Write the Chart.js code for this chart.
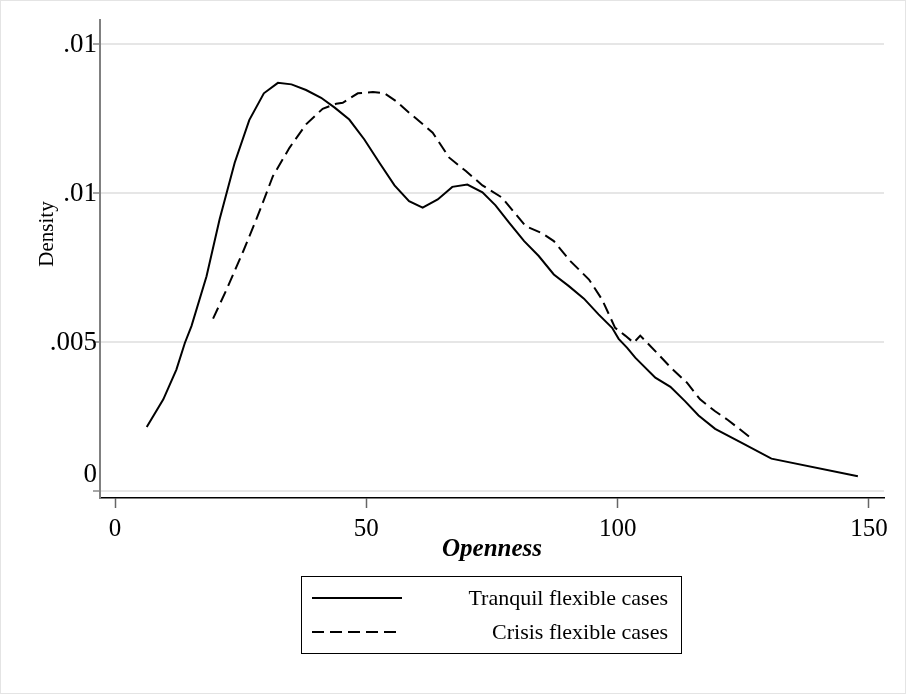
<!DOCTYPE html>
<html>
<head>
<meta charset="utf-8">
<script src="https://cdn.jsdelivr.net/npm/chart.js@4"></script>
<style>
body { margin: 0; background: #fff; }
#wrap { width: 906px; height: 694px; }
</style>
</head>
<body>
<div id="wrap"><canvas id="chart"></canvas></div>
<script>
// Kernel density of openness
const tranquilX = [6.3, 9.6, 12.2, 13.9, 15.2, 18.2, 20.8, 23.8, 26.7, 29.6, 32.4, 35.1, 38.0, 41.0, 43.7, 46.6, 49.6, 52.6, 55.6, 58.5, 61.2, 64.2, 67.1, 70.1, 73.1, 75.7, 78.4, 81.4, 84.3, 87.3, 90.3, 93.3, 96.2, 98.9, 100.2, 101.9, 103.5, 107.5, 110.5, 113.4, 116.1, 119.4, 124.7, 130.6, 147.8];
const tranquilY = [.00216, .00309, .00409, .00499, .00555, .00722, .00913, .01103, .01246, .01336, .01371, .01366, .01347, .01321, .01288, .01248, .01181, .01103, .01027, .00974, .00952, .0098, .01022, .0103, .01004, .0096, .00902, .0084, .0079, .00728, .00689, .00647, .00594, .00549, .00512, .00482, .00449, .00382, .00351, .00303, .00255, .0021, .00163, .0011, .00051];
const crisisX = [19.5, 22.2, 25.5, 28.1, 29.4, 31.4, 34.7, 38.0, 41.3, 44.0, 45.3, 48.3, 51.3, 53.6, 55.9, 58.5, 60.9, 63.2, 66.5, 69.8, 73.1, 77.0, 81.7, 85.0, 87.3, 90.6, 94.3, 96.9, 99.5, 101.5, 103.2, 104.5, 108.1, 110.8, 113.8, 116.4, 119.4, 122.0, 126.7];
const crisisY = [.0058, .00678, .00806, .00913, .00969, .01058, .01153, .01232, .01284, .01301, .01304, .01336, .0134, .01336, .0131, .01271, .01237, .01204, .0112, .01075, .01027, .00986, .0089, .00866, .0084, .00773, .00711, .00644, .00549, .00523, .00499, .00523, .0046, .00412, .00365, .00309, .00269, .00239, .00177];

const seriesLabels = ['Tranquil flexible cases', 'Crisis flexible cases'];
const xTicks = [0, 50, 100, 150];
const yTicks = [0, 0.005, 0.01, 0.015];
const yTickLabels = ['0', '.005', '.01', '.01'];

const serif = "'Liberation Serif', 'DejaVu Serif', serif";

const toPoints = (xs, ys) => xs.map((x, i) => ({x: x, y: ys[i]}));

// white page with a faint frame
const background = {
    id: 'background',
    beforeDraw(chart) {
        const ctx = chart.ctx;
        ctx.save();
        ctx.fillStyle = '#fff';
        ctx.fillRect(0, 0, chart.width, chart.height);
        ctx.strokeStyle = '#e4e4e4';
        ctx.lineWidth = 1;
        ctx.strokeRect(0.5, 0.5, chart.width - 1, chart.height - 1);
        ctx.restore();
    }
};

// boxed legend below the plot + rotated y title
const boxLegend = {
    id: 'boxLegend',
    afterDraw(chart) {
        const ctx = chart.ctx;
        ctx.save();
        ctx.strokeStyle = '#000';
        ctx.lineWidth = 1;
        ctx.strokeRect(301.5, 576.5, 380, 77);
        ctx.font = '22px ' + serif;
        ctx.textAlign = 'right';
        ctx.textBaseline = 'middle';
        chart.data.datasets.forEach((ds, i) => {
            const y = 598 + i * 34;
            ctx.setLineDash(ds.borderDash || []);
            ctx.lineWidth = ds.borderWidth;
            ctx.strokeStyle = ds.borderColor;
            ctx.beginPath();
            ctx.moveTo(312, y);
            ctx.lineTo(402, y);
            ctx.stroke();
            ctx.setLineDash([]);
            ctx.fillStyle = '#000';
            ctx.fillText(ds.label, 668, y + 1);
        });
        ctx.translate(47, 234);
        ctx.rotate(-Math.PI / 2);
        ctx.font = '21px ' + serif;
        ctx.textAlign = 'center';
        ctx.fillText('Density', 0, 0);
        ctx.restore();
    }
};

new Chart(document.getElementById('chart'), {
    type: 'line',
    data: {
        datasets: [{
            label: seriesLabels[0],
            data: toPoints(tranquilX, tranquilY),
            borderColor: '#000',
            borderWidth: 2,
            pointRadius: 0,
            fill: false
        }, {
            label: seriesLabels[1],
            data: toPoints(crisisX, crisisY),
            borderColor: '#000',
            borderWidth: 2,
            borderDash: [12, 6],
            pointRadius: 0,
            fill: false
        }]
    },
    options: {
        responsive: true,
        maintainAspectRatio: false,
        animation: false,
        layout: { padding: { top: 20, right: 22, left: 0, bottom: 0 } },
        plugins: { legend: { display: false }, tooltip: { enabled: false } },
        scales: {
            x: {
                type: 'linear',
                min: -3,
                max: 153,
                afterBuildTicks: s => { s.ticks = xTicks.map(v => ({value: v})); },
                afterFit: s => { s.height = 196; },
                grid: { drawOnChartArea: false, tickLength: 10, tickColor: '#666', tickWidth: 1.5 },
                border: { color: '#000', width: 1.5 },
                ticks: { font: { family: serif, size: 25 }, color: '#000', padding: 6, maxRotation: 0 },
                title: {
                    display: true,
                    text: 'Openness',
                    color: '#000',
                    font: { family: serif, size: 25, style: 'italic', weight: 'bold' },
                    padding: { top: 0, bottom: 129 }
                }
            },
            y: {
                min: -0.00022,
                max: 0.01582,
                afterBuildTicks: s => { s.ticks = yTicks.map(v => ({value: v})); },
                afterFit: s => { s.width = 100; },
                grid: { color: '#e6e6e6', lineWidth: 2, tickLength: 7, tickColor: '#888', tickWidth: 1.5 },
                border: { color: '#808080', width: 2 },
                ticks: {
                    font: { family: serif, size: 27 },
                    color: '#000',
                    padding: -4,
                    // the zero label sits a little above its line in the original
                    callback: (v, i) => v === 0 ? [yTickLabels[i], ''] : yTickLabels[i]
                }
            }
        }
    },
    plugins: [background, boxLegend]
});
</script>
</body>
</html>
